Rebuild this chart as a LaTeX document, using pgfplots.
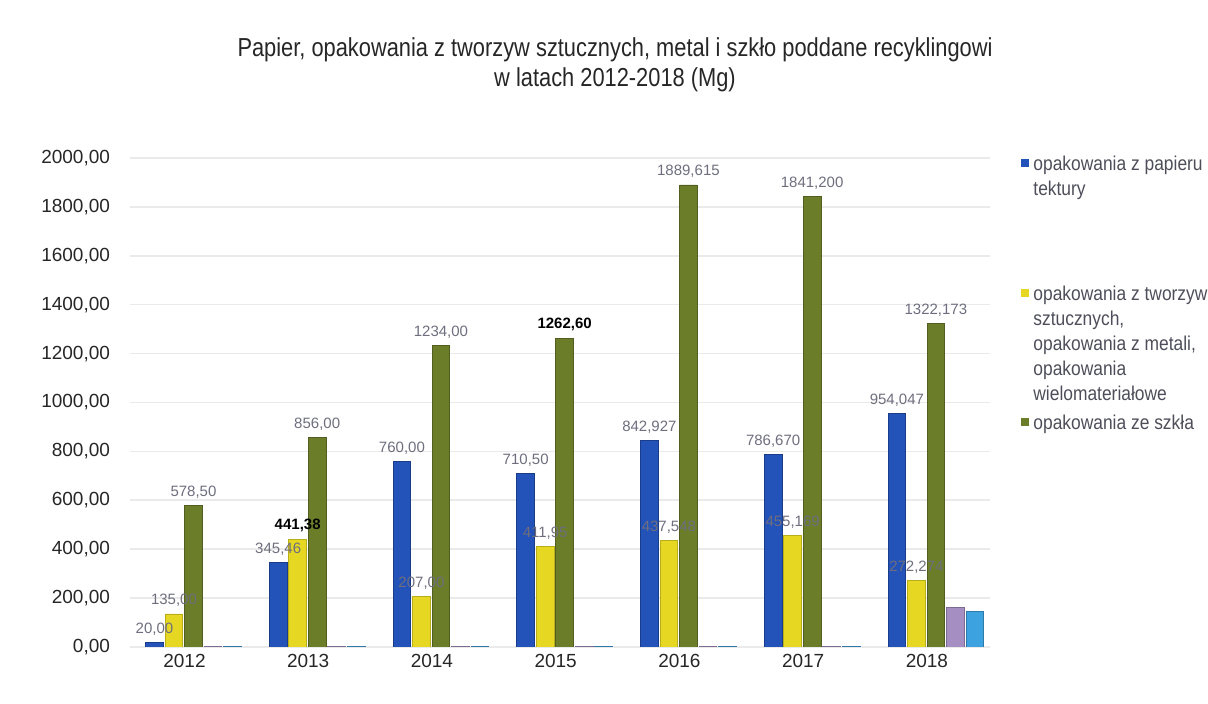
\documentclass[border=0pt]{standalone}
\usepackage{pgfplots}
\usepackage{pgfplotstable}
\pgfplotsset{compat=1.18}
\usepackage{fontspec}
\setmainfont{Liberation Sans}
\newfontfamily\narrowfont{Liberation Sans}[FakeStretch=0.87]
\newfontfamily\titlefont{Liberation Sans}[FakeStretch=0.84]

\definecolor{cBlue}{HTML}{2352B8}
\definecolor{cYellow}{HTML}{E6D822}
\definecolor{cGreen}{HTML}{6C7D2A}
\definecolor{cPurple}{HTML}{A58FC2}
\definecolor{cCyan}{HTML}{3CA3E0}
\definecolor{cLabel}{HTML}{6E6E7E}
\definecolor{cText}{HTML}{4E4E5A}
\definecolor{cGrid}{HTML}{EAEAEA}

\newcommand\hl[1]{\textcolor{black}{\textbf{#1}}}

% x = year index (0 = 2012), lab = label shown above the bar
\pgfplotstableread{
x y lab
0 20 20,00
1 345.46 345,46
2 760 760,00
3 710.5 710,50
4 842.927 842,927
5 786.67 786,670
6 954.047 954,047
}\paper
\pgfplotstableread{
x y lab
0 135 135,00
1 441.38 \hl{441,38}
2 207 207,00
3 411.95 411,95
4 437.548 437,548
5 455.169 455,169
6 272.274 272,274
}\plastic
\pgfplotstableread{
x y lab
0 578.5 578,50
1 856 856,00
2 1234 1234,00
3 1262.6 \hl{1262,60}
4 1889.615 1889,615
5 1841.2 1841,200
6 1322.173 1322,173
}\glass
\pgfplotstableread{
x y
0 4
1 4
2 4
3 4
4 4
5 4
6 160
}\otherA
\pgfplotstableread{
x y
0 4
1 4
2 4
3 4
4 4
5 4
6 145
}\otherB

\begin{document}
\begin{tikzpicture}
  \begin{axis}[
      at={(0,0)}, anchor=south west,
      scale only axis, width=430pt, height=244.5pt,
      ybar, bar width=8.8pt,
      xmin=-0.44, xmax=6.51, ymin=0, ymax=2000,
      xtick=data, xticklabels={2012,2013,2014,2015,2016,2017,2018},
      ytick={0,200,...,2000},
      ymajorgrids=true, grid style={cGrid, line width=0.8pt},
      axis line style={draw=none}, tick style={draw=none},
      /pgf/number format/.cd, fixed, fixed zerofill, precision=2,
        use comma, 1000 sep={}, assume math mode=true,
      /pgfplots/.cd,
      ticklabel style={font=\fontsize{9.5}{11}\selectfont, text=black!85},
      yticklabel style={xshift=-6.5pt},
      xticklabel style={yshift=4pt},
      title={Papier, opakowania z tworzyw sztucznych, metal i szkło poddane recyklingowi\\w latach 2012-2018 (Mg)},
      title style={at={(rel axis cs:0.564,1.167)}, anchor=center, align=center,
        font=\titlefont\fontsize{13}{15}\selectfont, text=black!85},
      point meta=explicit symbolic,
      every node near coord/.append style={font=\fontsize{7.5}{9}\selectfont, text=cLabel},
    ]
    \addplot[fill=cBlue, draw=cBlue!75!black, bar shift=-15pt, nodes near coords]
      table[x=x, y=y, meta=lab] {\paper};
    \addplot[fill=cYellow, draw=cYellow!80!black, bar shift=-5.25pt, nodes near coords]
      table[x=x, y=y, meta=lab] {\plastic};
    \addplot[fill=cGreen, draw=cGreen!75!black, bar shift=4.5pt, nodes near coords]
      table[x=x, y=y, meta=lab] {\glass};
    \addplot[fill=cPurple, draw=cPurple!75!black, bar shift=14.25pt]
      table[x=x, y=y] {\otherA};
    \addplot[fill=cCyan, draw=cCyan!75!black, bar shift=24pt]
      table[x=x, y=y] {\otherB};
  \end{axis}
  % legend (only the first three series are named)
  \begin{scope}[every node/.style={anchor=north west, inner sep=0pt, align=left,
      text=cText, font=\narrowfont\fontsize{10}{12.5}\selectfont}]
    \fill[cBlue] (445.5pt,240pt) rectangle (449.5pt,244pt);
    \node at (451.5pt,245.5pt) {opakowania z papieru\\tektury};
    \fill[cYellow] (445.5pt,175pt) rectangle (449.5pt,179pt);
    \node at (451.5pt,180.5pt) {opakowania z tworzyw\\sztucznych,\\opakowania z metali,\\opakowania\\wielomateriałowe};
    \fill[cGreen] (445.5pt,110.5pt) rectangle (449.5pt,114.5pt);
    \node at (451.5pt,116pt) {opakowania ze szkła};
  \end{scope}
  \pgfresetboundingbox
  \path[use as bounding box] (-65pt,-28.5pt) rectangle (539pt,323.5pt);
\end{tikzpicture}
\end{document}
